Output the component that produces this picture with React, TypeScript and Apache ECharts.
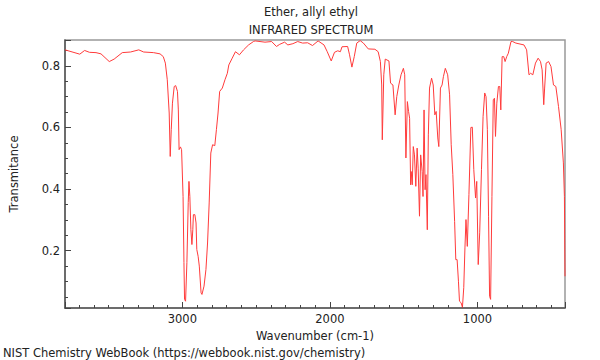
import React, { useEffect, useRef } from "react";
import * as echarts from "echarts";

const titleText = "Ether, allyl ethyl";
const subTitleText = "INFRARED SPECTRUM";
const xAxisName = "Wavenumber (cm-1)";
const yAxisName = "Transmitance";
const footerText = "NIST Chemistry WebBook (https://webbook.nist.gov/chemistry)";

const xRange = [407, 3795];
const yRange = [0.014, 0.884];

const wavenumbers = [
  3795, 3695, 3662, 3629, 3585, 3551, 3495, 3462, 3407, 3351, 3295, 3262, 3195, 3151, 3129, 3115, 3102, 3089, 3082, 3075,
  3067, 3055, 3045, 3033, 3027, 3022, 3013, 3005, 2995, 2989, 2985, 2978, 2969, 2960, 2955, 2949, 2942, 2935, 2929, 2925,
  2915, 2907, 2902, 2893, 2885, 2873, 2867, 2853, 2840, 2829, 2818, 2807, 2795, 2780, 2769, 2758, 2747, 2729, 2711, 2695,
  2685, 2662, 2640, 2613, 2585, 2551, 2518, 2507, 2440, 2395, 2362, 2340, 2307, 2285, 2251, 2218, 2185, 2151, 2118, 2080,
  2040, 2018, 1991, 1969, 1947, 1929, 1918, 1880, 1867, 1851, 1835, 1818, 1795, 1773, 1740, 1695, 1673, 1658, 1649, 1645,
  1635, 1625, 1600, 1589, 1573, 1558, 1547, 1533, 1518, 1502, 1493, 1485, 1475, 1467, 1460, 1453, 1449, 1442, 1435, 1427,
  1418, 1409, 1402, 1393, 1385, 1375, 1369, 1362, 1355, 1349, 1340, 1333, 1325, 1311, 1300, 1289, 1280, 1269, 1262, 1251,
  1240, 1231, 1218, 1202, 1189, 1178, 1167, 1155, 1147, 1138, 1129, 1122, 1111, 1102, 1093, 1085, 1078, 1069, 1058, 1045,
  1035, 1025, 1013, 1005, 995, 985, 973, 962, 951, 942, 933, 925, 918, 911, 902, 893, 885, 878, 869, 858,
  849, 842, 833, 822, 813, 802, 791, 773, 762, 740, 685, 667, 651, 640, 625, 607, 589, 573, 562, 551,
  545, 535, 518, 502, 485, 469, 451, 433, 418, 411, 407,
];

const transmittance = [
  0.852, 0.838, 0.85, 0.844, 0.843, 0.839, 0.814, 0.822, 0.843, 0.845, 0.852, 0.845, 0.843, 0.839, 0.83, 0.809, 0.755, 0.647, 0.506, 0.593,
  0.679, 0.733, 0.736, 0.717, 0.657, 0.528, 0.537, 0.528, 0.376, 0.162, 0.042, 0.036, 0.162, 0.356, 0.425, 0.376, 0.268, 0.22, 0.268, 0.317,
  0.317, 0.29, 0.204, 0.182, 0.15, 0.063, 0.058, 0.085, 0.139, 0.225, 0.355, 0.517, 0.544, 0.541, 0.593, 0.647, 0.717, 0.728, 0.755, 0.776,
  0.803, 0.825, 0.846, 0.836, 0.852, 0.868, 0.879, 0.881, 0.877, 0.879, 0.863, 0.87, 0.877, 0.868, 0.872, 0.879, 0.874, 0.875, 0.866, 0.881,
  0.868, 0.846, 0.816, 0.844, 0.849, 0.846, 0.862, 0.863, 0.836, 0.796, 0.83, 0.874, 0.882, 0.874, 0.855, 0.854, 0.846, 0.814, 0.738, 0.56,
  0.771, 0.822, 0.816, 0.744, 0.738, 0.641, 0.7, 0.738, 0.771, 0.792, 0.771, 0.501, 0.684, 0.652, 0.63, 0.414, 0.457, 0.414, 0.538, 0.511,
  0.409, 0.533, 0.468, 0.312, 0.511, 0.457, 0.376, 0.657, 0.398, 0.447, 0.268, 0.576, 0.728, 0.76, 0.738, 0.641, 0.652, 0.566, 0.538, 0.728,
  0.738, 0.765, 0.792, 0.771, 0.706, 0.544, 0.447, 0.295, 0.171, 0.171, 0.101, 0.036, 0.031, 0.016, 0.08, 0.209, 0.301, 0.214, 0.382, 0.6,
  0.601, 0.463, 0.371, 0.425, 0.155, 0.258, 0.463, 0.636, 0.712, 0.7, 0.593, 0.312, 0.052, 0.042, 0.376, 0.69, 0.695, 0.571, 0.679, 0.733,
  0.733, 0.657, 0.83, 0.83, 0.814, 0.83, 0.841, 0.879, 0.879, 0.874, 0.868, 0.852, 0.771, 0.776, 0.771, 0.809, 0.825, 0.814, 0.787, 0.674,
  0.728, 0.809, 0.814, 0.798, 0.738, 0.733, 0.668, 0.593, 0.485, 0.376, 0.117,
];

const FONT = "DejaVu Sans";
const FS = 11.5;

export default function App() {
  const ref = useRef<HTMLDivElement>(null);

  useEffect(() => {
    if (!ref.current) return;
    const chart = echarts.init(ref.current, undefined, { renderer: "svg" });
    const data = wavenumbers.map((w, i) => [w, transmittance[i]]);
    const axisText = { fontFamily: FONT, fontSize: FS, color: "#222" };

    chart.setOption({
      animation: false,
      backgroundColor: "#fff",
      grid: {
        left: 57,
        right: 35,
        top: 40,
        bottom: 52,
        show: true,
        borderColor: "#999",
        borderWidth: 1.5,
        backgroundColor: "transparent",
      },
      xAxis: {
        type: "value",
        min: xRange[0],
        max: xRange[1],
        inverse: true,
        splitNumber: 4,
        name: xAxisName,
        nameLocation: "middle",
        nameGap: 17,
        nameTextStyle: axisText,
        axisLine: { show: true, lineStyle: { color: "#555", width: 1.5 } },
        axisTick: { show: true, inside: true, length: 6, lineStyle: { color: "#444" } },
        minorTick: { show: true, splitNumber: 10, length: 3, lineStyle: { color: "#444" } },
        splitLine: { show: false },
        axisLabel: {
          ...axisText,
          margin: 5,
          showMinLabel: false,
          showMaxLabel: false,
          formatter: (v: number) => String(v),
        },
      },
      yAxis: {
        type: "value",
        min: yRange[0],
        max: yRange[1],
        splitNumber: 4,
        name: yAxisName,
        nameLocation: "middle",
        nameGap: 45,
        nameTextStyle: axisText,
        axisLine: { show: true, lineStyle: { color: "#555", width: 1.5 } },
        axisTick: { show: true, inside: true, length: 6, lineStyle: { color: "#444" } },
        minorTick: { show: true, splitNumber: 4, length: 3, lineStyle: { color: "#444" } },
        splitLine: { show: false },
        axisLabel: {
          ...axisText,
          margin: 5,
          showMinLabel: false,
          showMaxLabel: false,
          formatter: (v: number) => String(Math.round(v * 10) / 10),
        },
      },
      graphic: [
        {
          type: "text",
          x: 311,
          y: 12,
          style: { text: titleText, font: `${FS}px "${FONT}"`, fill: "#222", textAlign: "center", textVerticalAlign: "middle" },
        },
        {
          type: "text",
          x: 311,
          y: 30,
          style: { text: subTitleText, font: `${FS}px "${FONT}"`, fill: "#222", textAlign: "center", textVerticalAlign: "middle" },
        },
        {
          type: "text",
          x: 3,
          y: 353,
          style: { text: footerText, font: `${FS}px "${FONT}"`, fill: "#222", textAlign: "left", textVerticalAlign: "middle" },
        },
      ],
      series: [
        {
          type: "line",
          data,
          showSymbol: false,
          symbol: "none",
          smooth: false,
          clip: true,
          lineStyle: { color: "#ff3b3b", width: 1 },
        },
      ],
    });

    return () => chart.dispose();
  }, []);

  return (
    <div
      ref={ref}
      style={{ position: "fixed", left: 0, top: 0, width: 600, height: 360, background: "#fff" }}
    />
  );
}
